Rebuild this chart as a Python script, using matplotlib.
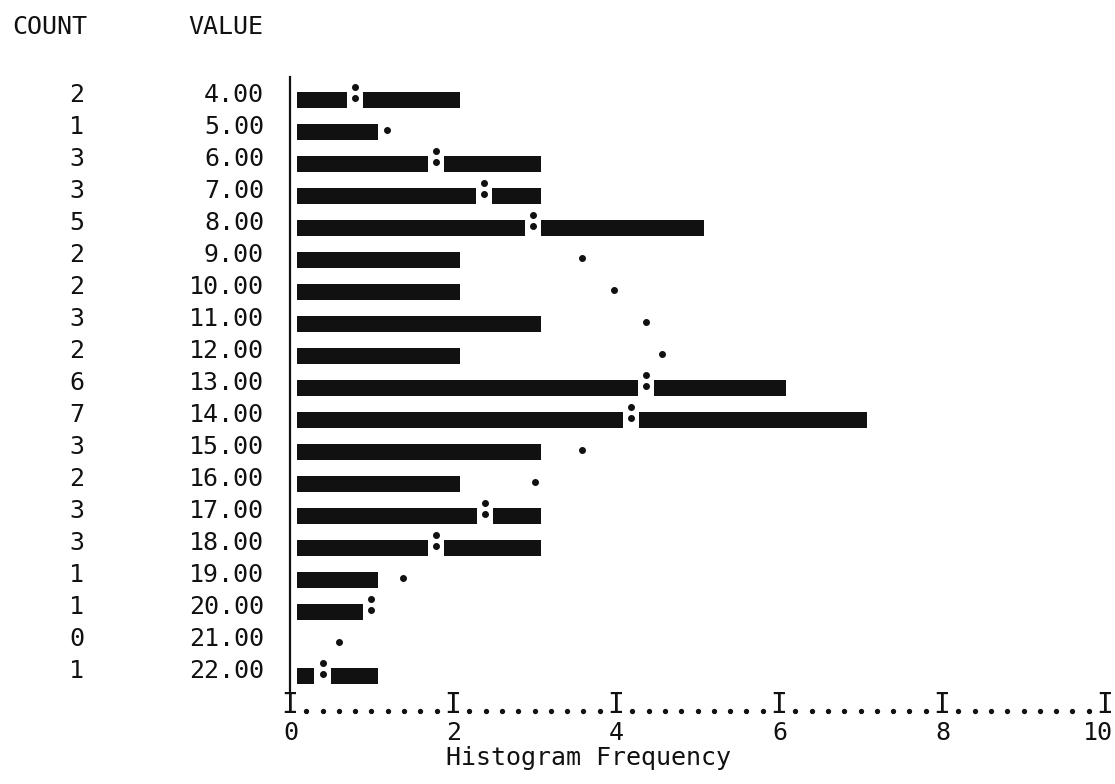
"""SPSS-style line printer histogram with a normal curve overlay."""

import matplotlib

matplotlib.use("Agg")
import matplotlib.pyplot as plt

# data
values = [4.0, 5.0, 6.0, 7.0, 8.0, 9.0, 10.0, 11.0, 12.0, 13.0,
          14.0, 15.0, 16.0, 17.0, 18.0, 19.0, 20.0, 21.0, 22.0]
counts = [2, 1, 3, 3, 5, 2, 2, 3, 2, 6, 7, 3, 2, 3, 3, 1, 1, 0, 1]
normal_curve = [0.80, 1.19, 1.79, 2.38, 2.98, 3.58, 3.98, 4.37, 4.57, 4.37,
                4.18, 3.58, 3.00, 2.39, 1.79, 1.39, 1.00, 0.60, 0.40]
freq_ticks = [0, 2, 4, 6, 8, 10]
minor_step = 0.2

W, H = 1115, 784
MONO = "DejaVu Sans Mono"
FS = 18
INK = "#111111"

# bar geometry (in frequency units); printed chars leave small offsets
BAR_START = 0.09
BAR_PAD = 0.08
GAP = 0.10
BAR_H = 0.5


def ax_x(px):
    # pixel column -> axes fraction, axes spans 290..1105 px
    return (px - 290) / 815


def ax_y(py):
    # pixel row -> axes fraction, axes spans 77..692 px
    return (692 - py) / 615


fig = plt.figure(figsize=(W / 100, H / 100), dpi=100)
ax = fig.add_axes([290 / W, 1 - 692 / H, 815 / W, 615 / H])
ax.set_xlim(0, 10)
ax.set_ylim(len(values) - 0.5, -0.72)
for side in ("top", "right", "bottom"):
    ax.spines[side].set_visible(False)
ax.spines["left"].set_linewidth(1.6)
ax.spines["left"].set_color(INK)
ax.set_xticks([])
ax.set_yticks([])

ytr = ax.get_yaxis_transform()
xtr = ax.get_xaxis_transform()

for i, (v, n, c) in enumerate(zip(values, counts, normal_curve)):
    end = n + BAR_PAD
    if n > 0 and c <= n + 0.01:
        # curve falls inside the bar: bar is broken by a colon
        ax.barh(i, (c - GAP) - BAR_START, left=BAR_START, height=BAR_H, color=INK)
        if c + GAP < end:
            ax.barh(i, end - (c + GAP), left=c + GAP, height=BAR_H, color=INK)
        ax.plot([c, c], [i - 0.41, i - 0.06], "o", ms=4, color=INK, clip_on=False)
    else:
        if n > 0:
            ax.barh(i, end - BAR_START, left=BAR_START, height=BAR_H, color=INK)
        ax.plot(c, i - 0.05, "o", ms=4, color=INK)

    ax.text(ax_x(84), i - 0.15, f"{n}", transform=ytr, ha="right", va="center",
            family=MONO, fontsize=FS, color=INK)
    ax.text(ax_x(264), i - 0.15, f"{v:.2f}", transform=ytr, ha="right", va="center",
            family=MONO, fontsize=FS, color=INK)

# printed frequency axis: I.........I.........I
for t in freq_ticks:
    ax.text(t, ax_y(713), "I", transform=xtr, ha="center", va="baseline",
            family=MONO, fontsize=20, color=INK, clip_on=False)
    ax.text(t + 0.1, ax_y(733), f"{t}", transform=xtr, ha="right", va="center",
            family=MONO, fontsize=FS, color=INK, clip_on=False)
n_minor = int(round((freq_ticks[-1] - freq_ticks[0]) / minor_step))
major_every = int(round((freq_ticks[1] - freq_ticks[0]) / minor_step))
minor = [freq_ticks[0] + k * minor_step for k in range(n_minor + 1)
         if k % major_every != 0]
ax.plot(minor, [ax_y(711)] * len(minor), "o", ms=2.8, color=INK,
        transform=xtr, clip_on=False)

ax.set_xlabel("Histogram Frequency", family=MONO, fontsize=FS, color=INK,
              ha="left", va="center")
ax.xaxis.set_label_coords(1.92 / 10, ax_y(758))

fig.text(12 / W, 1 - 27 / H, "COUNT", ha="left", va="center",
         family=MONO, fontsize=FS, color=INK)
fig.text(188 / W, 1 - 27 / H, "VALUE", ha="left", va="center",
         family=MONO, fontsize=FS, color=INK)

fig.savefig("out.png", dpi=100, facecolor="white")
